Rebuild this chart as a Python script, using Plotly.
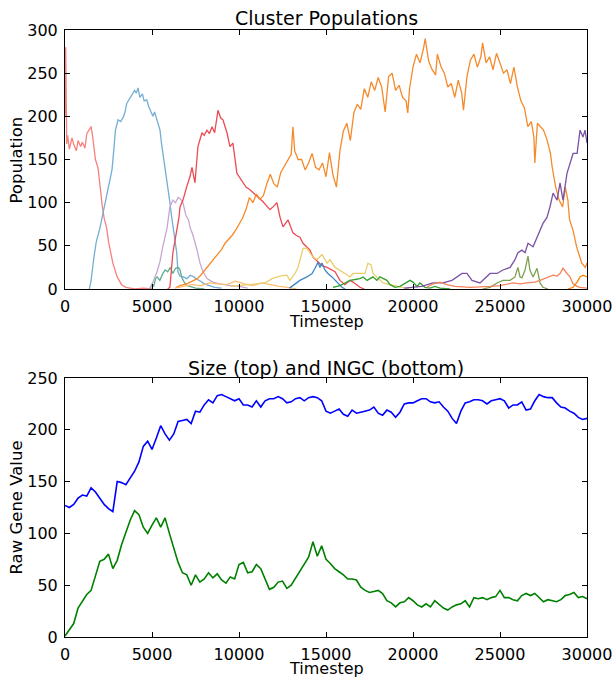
import plotly.graph_objects as go

# ---------------- Top panel: cluster populations ----------------
salmon_t = [0, 40, 100, 150, 250, 400, 500, 650, 750, 900, 1000, 1150, 1250, 1400, 1500, 1600, 1750, 1900, 2000, 2150, 2250, 2400, 2500, 2600, 2750, 3000, 3250, 3500, 3750, 4000, 4500, 5000]
salmon_v = [200, 280, 168, 178, 162, 175, 168, 160, 172, 165, 170, 163, 180, 185, 188, 175, 150, 140, 120, 95, 82, 70, 55, 45, 30, 14, 5, 2, 1, 0, 1, 0]

lblue_t = [1400, 1500, 1650, 1800, 2000, 2100, 2250, 2400, 2550, 2700, 2800, 2900, 3050, 3200, 3350, 3450, 3550, 3700, 3850, 4000, 4100, 4200, 4300, 4450, 4550, 4700, 4800, 4900, 5050, 5150, 5270, 5400, 5460, 5550, 5630, 5750, 5850, 5950, 6030, 6120, 6210, 6320, 6420, 6490, 6600, 6800, 7000, 7200, 7400, 7600, 7800, 8000, 8300, 8600, 9000]
lblue_v = [0, 10, 35, 55, 70, 80, 95, 111, 122, 138, 160, 184, 196, 194, 199, 205, 215, 220, 226, 230, 227, 233, 222, 226, 218, 219, 212, 207, 200, 205, 196, 188, 184, 168, 157, 142, 130, 112, 100, 85, 72, 55, 42, 20, 15, 14, 12, 16, 14, 11, 9, 6, 4, 2, 1]

teal_t = [4900, 5000, 5100, 5200, 5300, 5450, 5600, 5750, 5900, 6050, 6200, 6350, 6500, 6600, 6700, 6850, 7000, 7200, 7500, 8000]
teal_v = [0, 6, 3, 12, 14, 10, 17, 22, 20, 25, 18, 24, 25, 23, 14, 8, 4, 3, 1, 0]

lav_t = [4850, 5060, 5290, 5460, 5630, 5860, 6030, 6200, 6350, 6500, 6650, 6780, 6950, 7100, 7180, 7360, 7590, 7760, 7930, 8160, 8500, 8900, 9500, 10000, 10500]
lav_v = [0, 8, 20, 32, 50, 70, 95, 103, 100, 106, 104, 100, 85, 80, 72, 62, 45, 30, 20, 12, 8, 6, 4, 3, 1]

red_t = [5900, 6030, 6200, 6420, 6550, 6610, 6780, 6990, 7180, 7300, 7470, 7640, 7870, 8000, 8160, 8300, 8450, 8600, 8790, 8950, 9080, 9200, 9310, 9480, 9650, 9880, 10060, 10230, 10400, 10630, 10800, 11030, 11200, 11380, 11600, 11780, 12000, 12180, 12360, 12530, 12820, 13100, 13300, 13500, 13680, 13900, 14080, 14250, 14480, 14650, 14770, 15060, 15520, 15800, 16090, 16380, 16550, 16950, 17200]
red_v = [0, 2, 42, 65, 83, 95, 103, 118, 130, 141, 123, 165, 181, 178, 184, 180, 188, 181, 207, 198, 196, 188, 181, 165, 169, 134, 128, 123, 118, 115, 112, 107, 104, 101, 96, 92, 96, 100, 83, 72, 80, 65, 62, 60, 53, 48, 45, 37, 33, 30, 27, 25, 20, 10, 5, 10, 8, 2, 0]

ltorange_t = [6300, 6800, 7300, 7800, 8300, 8800, 9300, 9800, 10300, 10800, 11300, 11800, 12300, 12800, 13300]
ltorange_v = [1, 3, 5, 4, 7, 6, 5, 9, 6, 4, 7, 5, 3, 2, 0]

orange_t = [6400, 6600, 6800, 7000, 7200, 7400, 7600, 7800, 8000, 8200, 8400, 8600, 8800, 9000, 9200, 9400, 9600, 9800, 10000, 10200, 10400, 10600, 10800, 11000, 11200, 11400, 11600, 11800, 12000, 12200, 12400, 12600, 12800, 13000, 13100, 13200, 13400, 13600, 13800, 14000, 14200, 14400, 14600, 14800, 15000, 15200, 15400, 15600, 15800, 16000, 16200, 16400, 16600, 16800, 17000, 17200, 17400, 17600, 17800, 18000, 18200, 18400, 18600, 18800, 19000, 19200, 19400, 19600, 19700, 19800, 20000, 20200, 20400, 20600, 20700, 20900, 21100, 21300, 21400, 21600, 21800, 22000, 22200, 22400, 22600, 22800, 22900, 23100, 23300, 23500, 23700, 23900, 24000, 24200, 24400, 24600, 24800, 25000, 25200, 25400, 25600, 25800, 26000, 26200, 26400, 26600, 26800, 26950, 27000, 27150, 27300, 27500, 27700, 27900, 28000, 28200, 28400, 28600, 28750, 28900, 29000, 29200, 29400, 29600, 29700, 29900, 30000]
orange_v = [2, 4, 5, 6, 8, 10, 12, 16, 21, 26, 30, 36, 40, 46, 53, 57, 62, 68, 75, 82, 92, 106, 100, 110, 104, 108, 122, 133, 122, 118, 135, 142, 150, 156, 188, 160, 150, 150, 138, 146, 157, 141, 138, 146, 130, 158, 132, 118, 160, 183, 192, 172, 204, 214, 208, 232, 222, 240, 230, 245, 234, 205, 246, 250, 230, 236, 222, 218, 204, 232, 257, 272, 262, 278, 290, 264, 254, 248, 272, 258, 250, 234, 238, 222, 242, 227, 207, 246, 265, 272, 257, 269, 285, 262, 269, 254, 273, 262, 250, 254, 238, 257, 234, 218, 210, 188, 194, 176, 146, 192, 188, 184, 173, 157, 141, 118, 103, 95, 118, 103, 80, 68, 49, 37, 30, 25, 30]

yellow_t = [9500, 10600, 11500, 11900, 12350, 12750, 12930, 13220, 13390, 13680, 13900, 14080, 14250, 14480, 14770, 15060, 15230, 15520, 15800, 16090, 16380, 16550, 16950, 17240, 17410, 17590, 17700, 17930, 18280, 18680, 19250, 19800]
yellow_v = [3, 5, 7, 12, 15, 16, 10, 18, 25, 47, 47, 42, 37, 34, 40, 30, 34, 25, 22, 18, 14, 18, 18, 18, 30, 28, 18, 14, 7, 5, 2, 0]

dblue_t = [12900, 13330, 13500, 13900, 14200, 14370, 14540, 14650, 14770, 14940, 15110, 15340, 15520, 15690, 15920, 16100]
dblue_v = [1, 7, 10, 14, 18, 24, 31, 25, 30, 22, 18, 14, 10, 7, 2, 0]

green_t = [15400, 15800, 16090, 16380, 16670, 16950, 17130, 17360, 17700, 17930, 18100, 18280, 18500, 18680, 18970, 19250, 19540, 19830, 20000, 20230, 20400, 20690, 20980, 21260, 21550, 22130]
green_v = [2, 4, 7, 10, 11, 12, 14, 10, 14, 10, 14, 12, 10, 5, 2, 3, 7, 10, 8, 3, 7, 2, 1, 3, 1, 0]

purple_t = [19500, 20500, 21150, 21720, 22240, 22820, 23100, 23390, 23850, 24250, 24430, 24830, 25170, 25580, 25860, 26030, 26260, 26440, 26610, 26900, 27130, 27300, 27470, 27700, 27870, 28050, 28280, 28450, 28620, 28850, 29020, 29200, 29430, 29600, 29770, 29890, 30000]
purple_v = [1, 3, 7, 7, 10, 18, 18, 10, 7, 14, 18, 18, 22, 25, 34, 42, 45, 42, 53, 49, 60, 68, 76, 83, 95, 111, 103, 123, 103, 134, 146, 157, 157, 184, 176, 184, 169]

olive_t = [24000, 24430, 24830, 25170, 25580, 25860, 26030, 26150, 26260, 26440, 26610, 26720, 26900, 27130, 27300, 27470, 27760]
olive_v = [0, 2, 7, 10, 10, 14, 25, 14, 13, 22, 38, 22, 14, 24, 7, 2, 0]

coral_t = [20800, 21150, 21550, 21950, 22410, 23280, 24430, 25000, 25750, 26150, 26550, 27010, 27300, 27700, 28050, 28280, 28450, 28620, 28740, 28850, 29020, 29200, 29430, 29600, 30000]
coral_v = [2, 6, 8, 5, 3, 2, 3, 4, 7, 6, 7, 8, 10, 13, 16, 15, 18, 24, 20, 18, 14, 6, 3, 2, 1]

borange_t = [28900, 29020, 29200, 29430, 29600, 29770, 30000]
borange_v = [0, 1, 2, 8, 14, 16, 14]

top_series = [
    (salmon_t, salmon_v, "#f8817d"),
    (lblue_t, lblue_v, "#74aed4"),
    (teal_t, teal_v, "#5aae8e"),
    (lav_t, lav_v, "#c6a7d2"),
    (red_t, red_v, "#ec4a52"),
    (ltorange_t, ltorange_v, "#fdbf6f"),
    (orange_t, orange_v, "#f58a2b"),
    (yellow_t, yellow_v, "#ebcd6b"),
    (dblue_t, dblue_v, "#3a86c4"),
    (green_t, green_v, "#33a02c"),
    (purple_t, purple_v, "#7b52a6"),
    (olive_t, olive_v, "#7fa050"),
    (coral_t, coral_v, "#f4845b"),
    (borange_t, borange_v, "#ff8000"),
]

# ---------------- Bottom panel: gene values ----------------
gene_t = list(range(0, 30001, 250))
size_v = [127, 125, 128, 134, 137, 136, 144, 140, 134, 128, 124, 121, 150, 149, 147, 154, 160, 169, 184, 189, 181, 192, 204, 196, 190, 196, 208, 209, 210, 206, 218, 217, 224, 229, 226, 233, 234, 232, 230, 228, 230, 224, 224, 222, 228, 222, 228, 230, 230, 232, 230, 226, 227, 230, 231, 228, 231, 232, 231, 228, 218, 216, 218, 220, 215, 213, 219, 216, 217, 218, 219, 222, 216, 214, 219, 217, 212, 217, 225, 226, 226, 228, 230, 230, 227, 226, 227, 222, 218, 211, 206, 218, 226, 227, 229, 229, 228, 225, 228, 229, 230, 228, 221, 224, 224, 227, 219, 220, 228, 234, 232, 231, 231, 226, 222, 221, 218, 216, 212, 210, 211]
ingc_v = [1, 7, 13, 28, 34, 41, 45, 60, 73, 75, 80, 66, 74, 89, 102, 113, 122, 118, 106, 100, 108, 115, 106, 115, 100, 86, 72, 62, 60, 50, 60, 53, 56, 62, 57, 61, 55, 52, 58, 56, 70, 72, 62, 63, 70, 66, 56, 46, 48, 53, 54, 47, 50, 57, 63, 70, 77, 92, 78, 88, 75, 71, 66, 63, 60, 56, 56, 55, 48, 45, 43, 44, 45, 42, 35, 33, 29, 33, 34, 38, 35, 31, 29, 32, 29, 35, 31, 28, 26, 29, 31, 32, 35, 29, 38, 37, 38, 36, 38, 39, 45, 38, 38, 36, 35, 40, 42, 40, 42, 38, 34, 36, 35, 34, 36, 40, 41, 43, 38, 39, 37]

x_ticks = [0, 5000, 10000, 15000, 20000, 25000, 30000]
x_tick_text = ["0", "5000", "10000", "15000", "20000", "25000", "30000"]
top_y_ticks = [0, 50, 100, 150, 200, 250, 300]
bot_y_ticks = [0, 50, 100, 150, 200, 250]

fig = go.Figure()
for t, v, c in top_series:
    fig.add_trace(go.Scatter(x=t, y=v, mode="lines", line=dict(color=c, width=1.3),
                             xaxis="x", yaxis="y", showlegend=False, hoverinfo="skip"))
fig.add_trace(go.Scatter(x=gene_t, y=size_v, mode="lines", line=dict(color="#0000ff", width=1.6),
                         xaxis="x2", yaxis="y2", showlegend=False))
fig.add_trace(go.Scatter(x=gene_t, y=ingc_v, mode="lines", line=dict(color="#008000", width=1.6),
                         xaxis="x2", yaxis="y2", showlegend=False))

FONT = "DejaVu Sans"
axis_common = dict(showline=True, linecolor="black", linewidth=1, mirror="allticks",
                   ticks="inside", ticklen=5, tickcolor="black", showgrid=False, zeroline=False,
                   automargin=False, ticklabeloverflow="allow",
                   tickfont=dict(family=FONT, size=16, color="black"))

fig.update_layout(
    width=616, height=679,
    margin=dict(l=65, r=29, t=30, b=42),
    paper_bgcolor="white", plot_bgcolor="white",
    font=dict(family=FONT, color="black"),
    xaxis=dict(domain=[0, 1], anchor="y", range=[0, 30000], tickvals=x_ticks, ticktext=x_tick_text,
               ticklabelstandoff=3, **axis_common),
    yaxis=dict(domain=[0.5733, 1], anchor="x", range=[0, 300], tickvals=top_y_ticks,
               ticklabelstandoff=3, **axis_common),
    xaxis2=dict(domain=[0, 1], anchor="y2", range=[0, 30000], tickvals=x_ticks, ticktext=x_tick_text,
                ticklabelstandoff=3, **axis_common),
    yaxis2=dict(domain=[0, 0.4267], anchor="x2", range=[0, 250], tickvals=bot_y_ticks,
                ticklabelstandoff=3, **axis_common),
)

ann = [
    dict(text="Cluster Populations", x=0.5, y=1.019, xref="paper", yref="paper",
         xanchor="center", yanchor="middle", showarrow=False, font=dict(size=19)),
    dict(text="Size (top) and INGC (bottom)", x=0.5, y=0.4435, xref="paper", yref="paper",
         xanchor="center", yanchor="middle", showarrow=False, font=dict(size=19)),
    dict(text="Timestep", x=0.5, y=0.5190, xref="paper", yref="paper",
         xanchor="center", yanchor="middle", showarrow=False, font=dict(size=16)),
    dict(text="Timestep", x=0.5, y=-0.0527, xref="paper", yref="paper",
         xanchor="center", yanchor="middle", showarrow=False, font=dict(size=16)),
    dict(text="Population", x=-0.092, y=0.7866, xref="paper", yref="paper", textangle=-90,
         xanchor="center", yanchor="middle", showarrow=False, font=dict(size=16.5)),
    dict(text="Raw Gene Value", x=-0.092, y=0.2133, xref="paper", yref="paper", textangle=-90,
         xanchor="center", yanchor="middle", showarrow=False, font=dict(size=16.5)),
]
fig.update_layout(annotations=ann)

# remove the page's default body margin so the figure sits at the window's corner
fig.write_html("out.html", config={"displayModeBar": False},
               post_script="document.body.style.margin='0px';document.body.style.overflow='hidden';")
